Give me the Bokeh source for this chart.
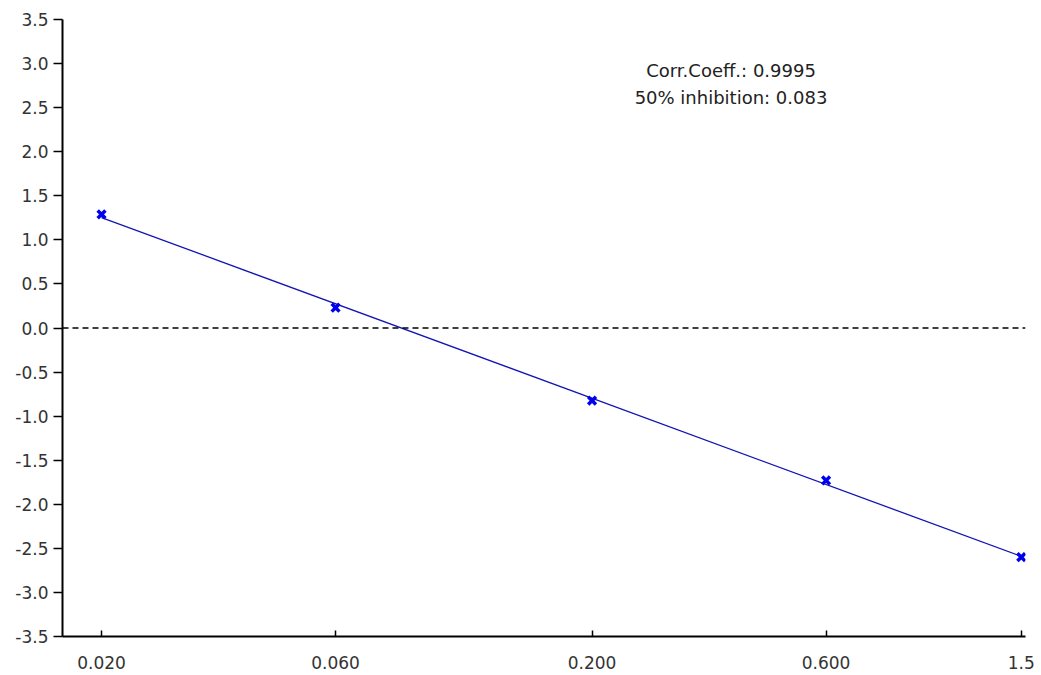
import numpy as np
from bokeh.plotting import figure
from bokeh.models import FixedTicker, Span, Label, ColumnDataSource
from bokeh.embed import file_html
from bokeh.resources import INLINE

# Data
conc = [0.02, 0.06, 0.2, 0.6, 1.5]
response = [1.29, 0.23, -0.825, -1.73, -2.60]
x_ticks = [0.02, 0.06, 0.2, 0.6, 1.5]
x_tick_labels = ["0.020", "0.060", "0.200", "0.600", "1.5"]
y_ticks = [-3.5, -3.0, -2.5, -2.0, -1.5, -1.0, -0.5, 0.0, 0.5, 1.0, 1.5, 2.0, 2.5, 3.0, 3.5]
annot_lines = ["Corr.Coeff.: 0.9995", "50% inhibition: 0.083"]

# Linear regression of response vs log10(concentration)
lx = np.log10(conc)
slope, intercept = np.polyfit(lx, response, 1)
fit_x = [conc[0], conc[-1]]
fit_y = [slope * np.log10(v) + intercept for v in fit_x]

p = figure(width=1038, height=675, x_axis_type="log",
           x_range=(0.01665, 1.53), y_range=(-3.5, 3.5),
           output_backend="svg", toolbar_location=None,
           min_border_left=62, min_border_top=19,
           min_border_right=13, min_border_bottom=39)
p.outline_line_color = None
p.xgrid.visible = False
p.ygrid.visible = False
p.background_fill_color = "white"

FONT = "DejaVu Sans"

xa = p.xaxis[0]
xa.ticker = FixedTicker(ticks=x_ticks, minor_ticks=[])
xa.major_label_overrides = {t: l for t, l in zip(x_ticks, x_tick_labels)}
xa.major_tick_in = 6
xa.major_tick_out = 0
xa.minor_tick_in = 0
xa.minor_tick_out = 0
xa.major_label_standoff = 19
xa.axis_line_width = 2
xa.axis_line_color = "black"
xa.major_tick_line_color = "black"
xa.major_tick_line_width = 1.5
xa.major_label_text_font = FONT
xa.major_label_text_font_size = "17px"
xa.major_label_text_color = "#333333"

ya = p.yaxis[0]
ya.ticker = FixedTicker(ticks=y_ticks, minor_ticks=[])
ya.major_label_overrides = {t: f"{t:.1f}" for t in y_ticks}
ya.major_tick_in = 0
ya.major_tick_out = 9
ya.minor_tick_in = 0
ya.minor_tick_out = 0
ya.major_label_standoff = 5
ya.axis_line_width = 2
ya.axis_line_color = "black"
ya.major_tick_line_color = "black"
ya.major_tick_line_width = 1.5
ya.major_label_text_font = FONT
ya.major_label_text_font_size = "17px"
ya.major_label_text_color = "#333333"

# Zero reference line
p.add_layout(Span(location=0, dimension="width", line_color="black",
                  line_dash="6 4", line_width=1.5))

# Fit line
p.line(fit_x, fit_y, line_color="#1414b4", line_width=1.3)

# Data points
src = ColumnDataSource(dict(x=conc, y=response))
p.scatter("x", "y", source=src, marker="x", size=11, line_width=3.5,
          line_color="#0000ee")

# Annotation
ann_x = 0.384
for txt, yy in zip(annot_lines, [2.92, 2.62]):
    p.add_layout(Label(x=ann_x, y=yy, text=txt, text_align="center",
                       text_baseline="middle", text_font=FONT,
                       text_font_size="18px", text_color="#222222"))

open("out.html", "w").write(file_html(p, INLINE))
